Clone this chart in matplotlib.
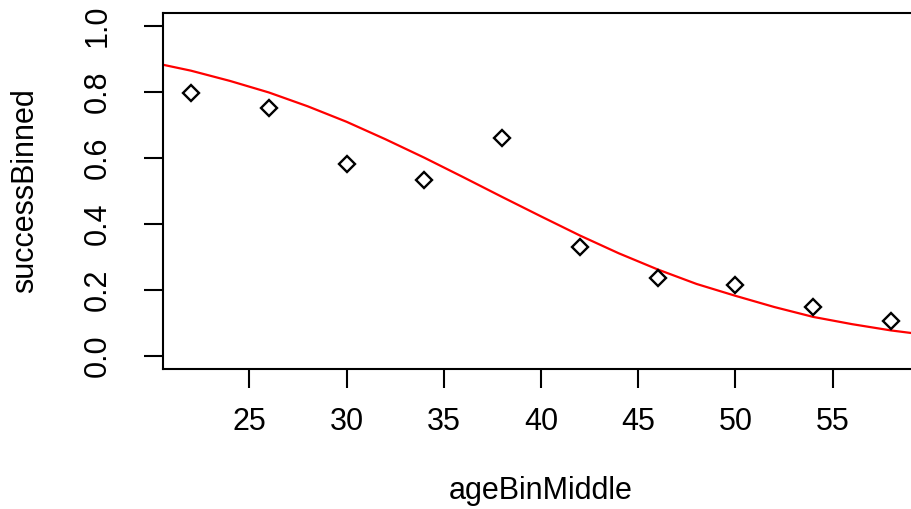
import matplotlib
matplotlib.use("Agg")
import matplotlib.pyplot as plt

# Binned observations
age_bin_middle = [22, 26, 30, 34, 38, 42, 46, 50, 54, 58]
success_binned = [0.797, 0.752, 0.583, 0.534, 0.662, 0.331, 0.236, 0.216, 0.147, 0.106]

# Fitted curve values
curve_age = [20, 22, 24, 26, 28, 30, 32, 34, 36, 38, 40, 42, 44, 46, 48, 50, 52, 54, 56, 58, 60]
curve_prob = [0.890, 0.865, 0.834, 0.799, 0.757, 0.710, 0.657, 0.601, 0.542, 0.482, 0.423,
              0.365, 0.311, 0.262, 0.218, 0.182, 0.148, 0.118, 0.096, 0.077, 0.062]

x_ticks = [25, 30, 35, 40, 45, 50, 55]
y_ticks = [0.0, 0.2, 0.4, 0.6, 0.8, 1.0]

plt.rcParams['font.family'] = ['Liberation Sans', 'DejaVu Sans']

fig = plt.figure(figsize=(9.12, 5.09), dpi=100)
ax = fig.add_axes([163 / 912, 1 - 369 / 509, 756 / 912, 356 / 509])

ax.plot(curve_age, curve_prob, color='#ff0000', lw=1.6, zorder=2)
ax.plot(age_bin_middle, success_binned, linestyle='none', marker='D', ms=8.3,
        mfc='none', mec='black', mew=1.7, zorder=3)

ax.set_xlim(20.56, 59.44)
ax.set_ylim(-0.04, 1.04)
ax.set_xticks(x_ticks)
ax.set_xticklabels([str(v) for v in x_ticks])
ax.set_yticks(y_ticks)
ax.set_yticklabels([f"{v:.1f}" for v in y_ticks], rotation=90, va='center')

for s in ax.spines.values():
    s.set_linewidth(1.5)
    s.set_color('black')

ax.tick_params(axis='both', which='major', length=14, width=1.5, labelsize=22,
               colors='black')
ax.tick_params(axis='x', pad=13)
ax.tick_params(axis='y', pad=22)

ax.set_xlabel('ageBinMiddle', fontsize=22, va='center', ha='center')
ax.set_ylabel('successBinned', fontsize=22, va='center', ha='center')
ax.xaxis.set_label_coords((541 - 163) / 756, (369 - 491) / 356)
ax.yaxis.set_label_coords((25 - 163) / 756, (369 - 191) / 356)

fig.savefig('out.png', dpi=100, facecolor='white')
